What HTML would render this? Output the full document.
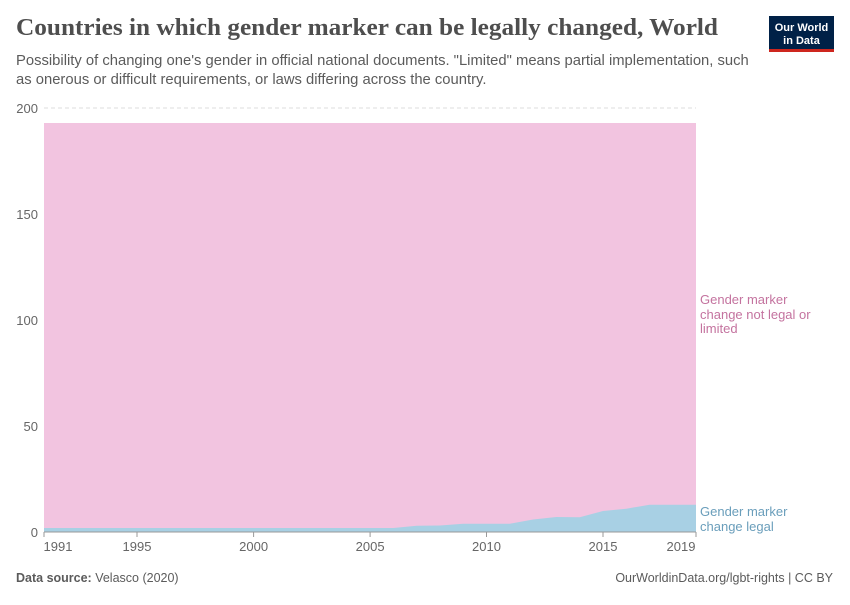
<!DOCTYPE html>
<html><head><style>
body{margin:0;background:#fff;font-family:"Liberation Sans",sans-serif;}
</style></head><body>
<svg width="850" height="600" xmlns="http://www.w3.org/2000/svg">
<text x="16" y="35" font-family="Liberation Serif,serif" font-size="24.5" font-weight="bold" fill="#4e4e4e" textLength="702" lengthAdjust="spacingAndGlyphs">Countries in which gender marker can be legally changed, World</text>
<text x="16" y="65" font-size="14.8" fill="#5b5b5b">Possibility of changing one's gender in official national documents. "Limited" means partial implementation, such</text>
<text x="16" y="84" font-size="14.8" fill="#5b5b5b">as onerous or difficult requirements, or laws differing across the country.</text>
<rect x="769" y="16" width="65" height="36" fill="#002147"/>
<rect x="769" y="49" width="65" height="3" fill="#ce261e"/>
<text x="801.5" y="31" font-size="11" font-weight="bold" fill="#fff" text-anchor="middle">Our World</text>
<text x="801.5" y="44" font-size="11" font-weight="bold" fill="#fff" text-anchor="middle">in Data</text>
<g stroke="#ddd" stroke-dasharray="4,3">
<line x1="44" x2="696" y1="108" y2="108"/><line x1="44" x2="696" y1="214" y2="214"/><line x1="44" x2="696" y1="320" y2="320"/><line x1="44" x2="696" y1="426" y2="426"/>
</g>
<g font-size="13" fill="#666" text-anchor="end">
<text x="38" y="113">200</text><text x="38" y="219">150</text><text x="38" y="325">100</text><text x="38" y="431">50</text><text x="38" y="537">0</text>
</g>
<rect x="44" y="123" width="652" height="409" fill="#f2c4e0"/>
<polygon fill="#a8d0e4" points="44,532 44,528 370.1,528 393.4,528 416.7,525.7 440,525.5 463.2,523.7 486.5,523.7 509.8,523.7 533.1,519.5 556.4,517 579.7,517.3 603,511 626.3,508.7 649.6,504.7 672.8,504.7 696,504.7 696,532"/>
<line x1="44" x2="696" y1="532" y2="532" stroke="#999"/>
<g stroke="#999"><line x1="44" x2="44" y1="532" y2="537"/><line x1="137" x2="137" y1="532" y2="537"/><line x1="253.6" x2="253.6" y1="532" y2="537"/><line x1="370.1" x2="370.1" y1="532" y2="537"/><line x1="486.5" x2="486.5" y1="532" y2="537"/><line x1="603" x2="603" y1="532" y2="537"/><line x1="696" x2="696" y1="532" y2="537"/></g>
<g font-size="13" fill="#666" text-anchor="middle">
<text x="58" y="551">1991</text><text x="137" y="551">1995</text><text x="253.6" y="551">2000</text><text x="370.1" y="551">2005</text><text x="486.5" y="551">2010</text><text x="603" y="551">2015</text><text x="681" y="551">2019</text>
</g>
<g font-size="13" fill="#c4739f">
<text x="700" y="304">Gender marker</text><text x="700" y="319">change not legal or</text><text x="700" y="333">limited</text>
</g>
<g font-size="13" fill="#6a9ebb">
<text x="700" y="516">Gender marker</text><text x="700" y="531">change legal</text>
</g>
<text x="16" y="582" font-size="12.5" fill="#5b5b5b"><tspan font-weight="bold">Data source:</tspan> Velasco (2020)</text>
<text x="833" y="582" font-size="12.5" fill="#5b5b5b" text-anchor="end">OurWorldinData.org/lgbt-rights | CC BY</text>
</svg>
</body></html>
